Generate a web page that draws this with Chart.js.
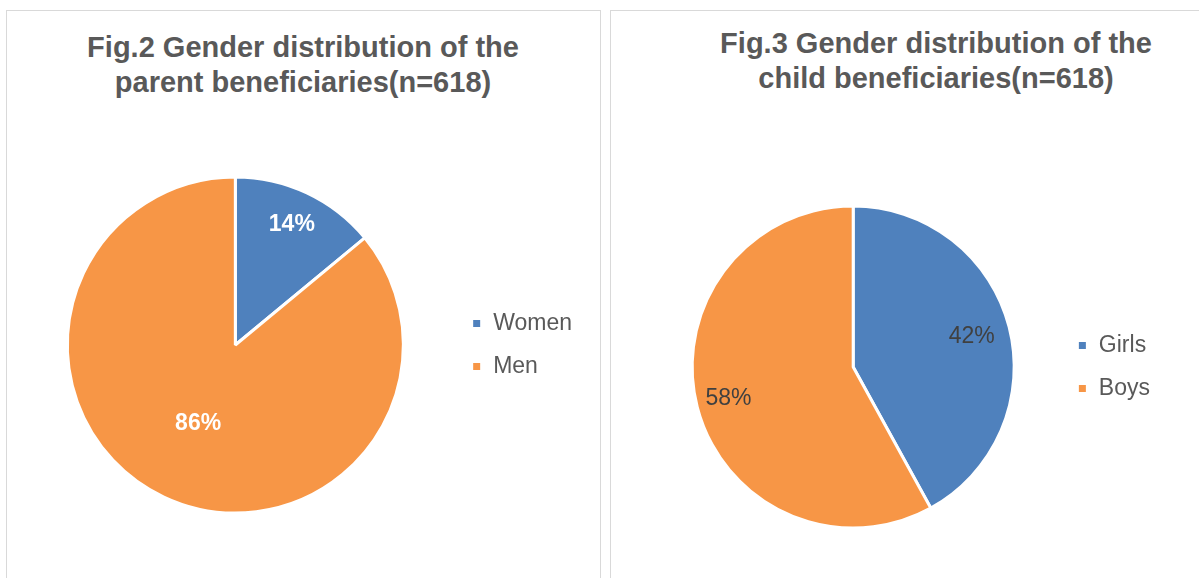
<!DOCTYPE html>
<html>
<head>
<meta charset="utf-8">
<script src="https://cdn.jsdelivr.net/npm/chart.js@4.4.0/dist/chart.umd.min.js"></script>
<style>
  body { margin: 0; width: 1199px; height: 578px; overflow: hidden; background: #fff; position: relative; font-family: "Liberation Sans", Arial, sans-serif; }
  .panel { position: absolute; top: 10px; height: 620px; border: 1px solid #d9d9d9; box-sizing: border-box; }
  .title { position: absolute; width: 500px; text-align: center; font-weight: bold; font-size: 29px; line-height: 35px; color: #595959; }
  canvas { position: absolute; }
</style>
</head>
<body>
<div class="panel" style="left:6px; width:595px;"></div>
<div class="panel" style="left:610px; width:700px;"></div>
<div class="title" style="left:53px; top:30px;">Fig.2 Gender distribution of the<br>parent beneficiaries(n=618)</div>
<div class="title" style="left:686px; top:26px;">Fig.3 Gender distribution of the<br>child beneficiaries(n=618)</div>
<canvas id="ParentChart" width="592" height="567" style="left:7px; top:11px;"></canvas>
<canvas id="ChildChart" width="587" height="567" style="left:612px; top:11px;"></canvas>
<script>
// Data (percent of 618)
const parentLabels = ["Women", "Men"];
const parentValues = [14, 86];
const childLabels = ["Girls", "Boys"];
const childValues = [42, 58];
const sliceColors = ["#4F81BD", "#F79646"];

// Draw the percentage label inside each slice
const pieLabels = {
  id: "pieLabels",
  afterDatasetsDraw(chart, args, opts) {
    const ctx = chart.ctx;
    const meta = chart.getDatasetMeta(0);
    const values = chart.data.datasets[0].data;
    ctx.save();
    ctx.font = opts.font;
    ctx.fillStyle = opts.color;
    ctx.textAlign = "center";
    ctx.textBaseline = "middle";
    meta.data.forEach((arc, i) => {
      const p = arc.getProps(["x", "y", "startAngle", "endAngle", "outerRadius"], true);
      const mid = (p.startAngle + p.endAngle) / 2;
      const r = p.outerRadius * opts.distance[i];
      ctx.fillText(values[i] + "%", p.x + Math.cos(mid) * r, p.y + Math.sin(mid) * r);
    });
    ctx.restore();
  },
};

function makePie(id, labels, values, radius, padding, labelOpts) {
  return new Chart(document.getElementById(id).getContext("2d"), {
    type: "pie",
    data: {
      labels: labels,
      datasets: [
        {
          data: values,
          backgroundColor: sliceColors,
          borderColor: "#ffffff",
          borderWidth: 3,
          radius: radius,
        },
      ],
    },
    options: {
      responsive: false,
      animation: false,
      events: [],
      layout: { padding: padding },
      plugins: {
        legend: {
          position: "right",
          labels: {
            boxWidth: 10,
            boxHeight: 10,
            padding: 20,
            color: "#595959",
            font: { family: "'Liberation Sans', Arial, sans-serif", size: 23 },
          },
        },
        tooltip: { enabled: false },
        pieLabels: labelOpts,
      },
    },
    plugins: [pieLabels],
  });
}

var parentChart = makePie("ParentChart", parentLabels, parentValues, 168,
  { left: 12, right: 17, top: 101, bottom: 0 },
  { font: "bold 23px 'Liberation Sans', Arial, sans-serif", color: "#ffffff", distance: [0.79, 0.52] });

var childChart = makePie("ChildChart", childLabels, childValues, 161,
  { left: 37, right: 39, top: 145, bottom: 0 },
  { font: "23px 'Liberation Sans', Arial, sans-serif", color: "#404040", distance: [0.76, 0.8] });
</script>
</body>
</html>
